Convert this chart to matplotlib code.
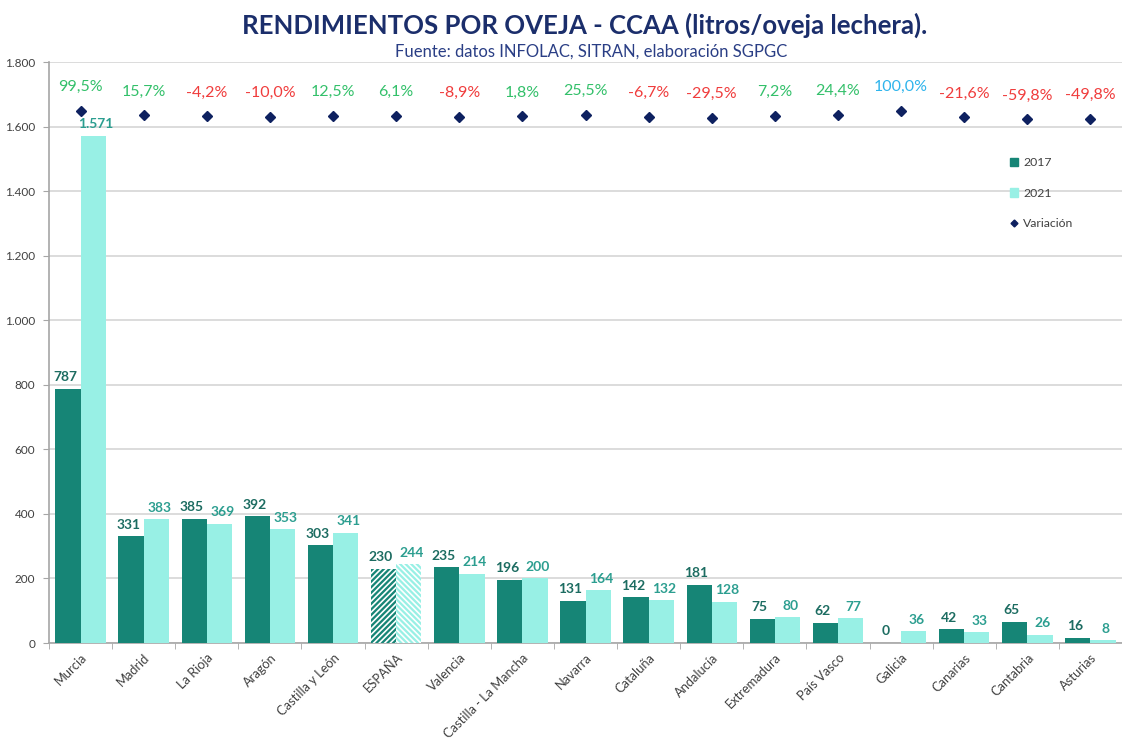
import matplotlib
matplotlib.use("Agg")
import matplotlib.pyplot as plt
import numpy as np
from matplotlib.lines import Line2D
from matplotlib.patches import Patch

plt.rcParams['font.family'] = ['Lato', 'DejaVu Sans']
plt.rcParams['hatch.linewidth'] = 1.2

# -----------------------
# data
regiones = ['Murcia', 'Madrid', 'La Rioja', 'Aragón', 'Castilla y León', 'ESPAÑA',
            'Valencia', 'Castilla - La Mancha', 'Navarra', 'Cataluña', 'Andalucía',
            'Extremadura', 'País Vasco', 'Galicia', 'Canarias', 'Cantabria', 'Asturias']
r2017 = [787, 331, 385, 392, 303, 230, 235, 196, 131, 142, 181, 75, 62, 0, 42, 65, 16]
r2021 = [1571, 383, 369, 353, 341, 244, 214, 200, 164, 132, 128, 80, 77, 36, 33, 26, 8]
variacion = [99.5, 15.7, -4.2, -10.0, 12.5, 6.1, -8.9, 1.8, 25.5, -6.7, -29.5,
             7.2, 24.4, 100.0, -21.6, -59.8, -49.8]
yticks = [0, 200, 400, 600, 800, 1000, 1200, 1400, 1600, 1800]
# -----------------------

c_dark = '#168576'
c_light = '#98F0E5'
c_lab_dark = '#1C6C61'
c_lab_light = '#2C9E90'
c_navy = '#0E2160'
c_pos = '#33C06A'
c_neg = '#F03C3C'
c_full = '#2EB4EC'


def fmt(v):
    return '{:,}'.format(v).replace(',', '.')


def fmt_pct(v):
    return '{:.1f}%'.format(v).replace('.', ',')


fig = plt.figure(figsize=(11.22, 7.42), dpi=100)
ax = fig.add_axes([0.0437, 0.1334, 0.9563, 0.783])

x = np.arange(len(regiones))
w = 0.4
for i in range(len(regiones)):
    hatch_d = '//////' if regiones[i] == 'ESPAÑA' else None
    hatch_l = '\\\\\\\\\\\\' if regiones[i] == 'ESPAÑA' else None
    ax.bar(x[i] - w / 2, r2017[i], w, color=c_dark, hatch=hatch_d,
           edgecolor='white' if hatch_d else c_dark, linewidth=0, zorder=3)
    ax.bar(x[i] + w / 2, r2021[i], w, color=c_light, hatch=hatch_l,
           edgecolor='white' if hatch_l else c_light, linewidth=0, zorder=3)
    ax.annotate(fmt(r2017[i]), (x[i] - w / 2, r2017[i]), xytext=(-2, 4),
                textcoords='offset points', ha='center', va='bottom',
                fontsize=10, fontweight='bold', color=c_lab_dark, zorder=5)
    ax.annotate(fmt(r2021[i]), (x[i] + w / 2, r2021[i]), xytext=(2, 4),
                textcoords='offset points', ha='center', va='bottom',
                fontsize=10, fontweight='bold', color=c_lab_light, zorder=5)

ax.set_xlim(-0.5, len(regiones) - 0.5)
ax.set_ylim(0, 1800)
ax.set_yticks(yticks)
ax.set_yticklabels([fmt(t) for t in yticks], fontsize=8.5, color='#404040')
ax.set_xticks(x)
ax.set_xticklabels(regiones, rotation=45, ha='right', rotation_mode='anchor',
                   fontsize=9.3, color='#404040')
ax.tick_params(axis='x', which='major', length=0, pad=6)
ax.set_xticks(np.arange(-0.5, len(regiones), 1), minor=True)
ax.tick_params(axis='x', which='minor', length=4, color='#A6A6A6', direction='out')
ax.tick_params(axis='y', length=4, color='#A6A6A6', pad=6)
ax.grid(axis='y', color='#D9D9D9', linewidth=1.3, zorder=0)
for s in ['top', 'right']:
    ax.spines[s].set_visible(False)
for s in ['left', 'bottom']:
    ax.spines[s].set_color('#A6A6A6')
    ax.spines[s].set_linewidth(1.2)

# variacion on hidden secondary axis
ax2 = ax.twinx()
ax2.set_ylim(-9580, 985)
ax2.axis('off')
ax2.plot(x, variacion, linestyle='none', marker='D', markersize=5.5,
         color=c_navy, zorder=4)
for i, v in enumerate(variacion):
    col = c_full if v >= 100 else (c_pos if v > 0 else c_neg)
    ax2.annotate(fmt_pct(v), (x[i], v), xytext=(0, 17), textcoords='offset points',
                 ha='center', va='center', fontsize=11.5, color=col)

handles = [Patch(color=c_dark, label='2017'),
           Patch(color=c_light, label='2021'),
           Line2D([], [], linestyle='none', marker='D', markersize=3.5,
                  color=c_navy, label='Variación')]
ax.legend(handles=handles, loc='upper left', bbox_to_anchor=(0.885, 0.855),
          frameon=False, fontsize=8.8, labelspacing=1.6, handlelength=0.7,
          handleheight=0.7, handletextpad=0.4, labelcolor='#404040')

fig.text(0.521, 0.966, 'RENDIMIENTOS POR OVEJA - CCAA (litros/oveja lechera).',
         ha='center', va='center', fontsize=18.5, fontweight='bold', color='#1B2E6B')
fig.text(0.527, 0.931, 'Fuente: datos INFOLAC, SITRAN, elaboración SGPGC',
         ha='center', va='center', fontsize=12, color='#2A3E85')

fig.savefig('out.png', dpi=100)
